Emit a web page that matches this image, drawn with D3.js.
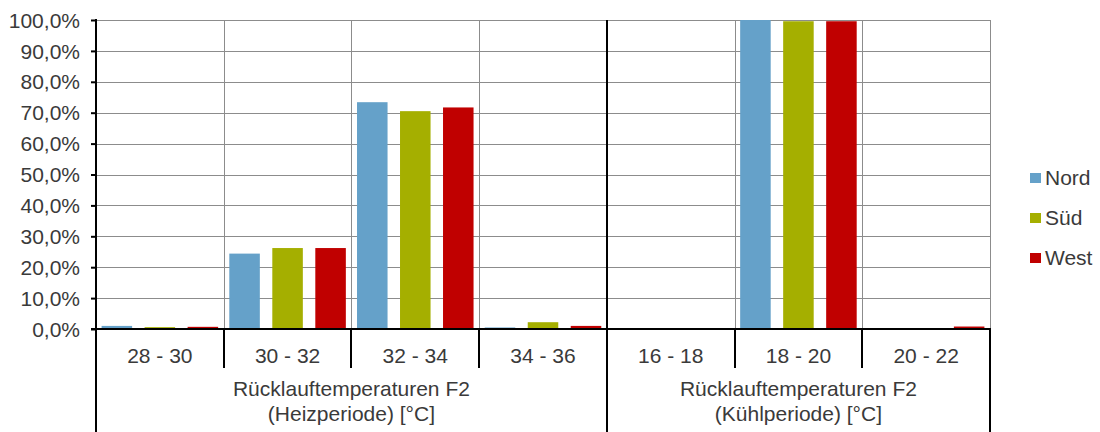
<!DOCTYPE html>
<html><head><meta charset="utf-8">
<script src="https://cdn.jsdelivr.net/npm/d3@7"></script>
<style>body{margin:0;background:#fff}svg{display:block;font-family:"Liberation Sans",Arial,sans-serif}</style>
</head><body><svg id="c" width="1100" height="432"></svg>
<script>
const categories = ["28 - 30","30 - 32","32 - 34","34 - 36","16 - 18","18 - 20","20 - 22"];
const groups = [
  {lines:["Rücklauftemperaturen F2","(Heizperiode) [°C]"], from:0, to:4},
  {lines:["Rücklauftemperaturen F2","(Kühlperiode) [°C]"], from:4, to:7}
];
const seriesNames = ["Nord","Süd","West"];
const nord = [1.0, 24.4, 73.4, 0.5, 0, 100.0, 0];
const sued = [0.6, 26.2, 70.5, 2.2, 0, 99.6, 0];
const west = [0.7, 26.2, 71.7, 1.0, 0, 99.6, 0.8];
const seriesValues = [nord, sued, west];
const colors = ["#65A1C9","#A5AF00","#C00000"];
const yTicks = [0,10,20,30,40,50,60,70,80,90,100];

const svg = d3.select("#c");
const FS = 21;
const L=96, R=990, T=20, B=329;
const x = d3.scaleBand().domain(categories).range([L,R]).padding(0);
const xi = d3.scaleBand().domain(seriesNames).range([0,x.bandwidth()]).paddingInner(0.29).paddingOuter(0.13);
const y = d3.scaleLinear().domain([0,100]).range([B,T]);
const fmt = v => d3.format(".1f")(v).replace(".",",")+"%";
const txt = "#3a3a3a";

// horizontal grid
svg.append("g").selectAll("line").data(yTicks.filter(d=>d>0)).join("line")
  .attr("x1",L).attr("x2",R).attr("y1",d=>Math.round(y(d))+0.5).attr("y2",d=>Math.round(y(d))+0.5)
  .attr("stroke","#8c8c8c").attr("stroke-width",1);
// vertical grid at category boundaries
const bounds = categories.map(c=>x(c)).concat([R]);
svg.append("g").selectAll("line").data(bounds.slice(1)).join("line")
  .attr("x1",d=>Math.round(d)+0.5).attr("x2",d=>Math.round(d)+0.5).attr("y1",T).attr("y2",B)
  .attr("stroke","#8c8c8c").attr("stroke-width",1);
// group separator (black) in plot
svg.append("line").attr("x1",Math.round(x(categories[4]))).attr("x2",Math.round(x(categories[4])))
  .attr("y1",T).attr("y2",B).attr("stroke","#000").attr("stroke-width",2);

// bars
const bars = [];
categories.forEach((c,i)=>seriesNames.forEach((s,j)=>bars.push({c,s,j,v:seriesValues[j][i]})));
svg.append("g").selectAll("rect").data(bars.filter(d=>d.v>0)).join("rect")
  .attr("x",d=>x(d.c)+xi(d.s)).attr("width",xi.bandwidth())
  .attr("y",d=>y(d.v)).attr("height",d=>B-y(d.v)).attr("fill",d=>colors[d.j]);

// y axis
const yAxis = d3.axisLeft(y).tickValues(yTicks).tickFormat(fmt).tickSize(5).tickPadding(11);
const ya = svg.append("g").attr("transform",`translate(${L},0)`).call(yAxis);
ya.select(".domain").remove();
ya.selectAll(".tick line").attr("stroke","#000").attr("stroke-width",2);
ya.selectAll("text").attr("font-size",FS).attr("fill",txt).attr("dy","0.34em").attr("font-family","Liberation Sans, Arial, sans-serif");
svg.append("line").attr("x1",L).attr("x2",L).attr("y1",T-1).attr("y2",432).attr("stroke","#000").attr("stroke-width",2);

// x axis baseline
svg.append("line").attr("x1",L-5).attr("x2",R+1).attr("y1",B).attr("y2",B).attr("stroke","#000").attr("stroke-width",2);
// category ticks down to label row
svg.append("g").selectAll("line").data(bounds.slice(1)).join("line")
  .attr("x1",d=>Math.round(d)).attr("x2",d=>Math.round(d)).attr("y1",B).attr("y2",368)
  .attr("stroke","#000").attr("stroke-width",2);
// group separators to bottom
groups.forEach(g=>{
  const xr = g.to<categories.length ? x(categories[g.to]) : R;
  svg.append("line").attr("x1",Math.round(xr)).attr("x2",Math.round(xr)).attr("y1",B).attr("y2",432)
    .attr("stroke","#000").attr("stroke-width",2);
});
// category labels
svg.append("g").selectAll("text").data(categories).join("text")
  .attr("x",d=>x(d)+x.bandwidth()/2).attr("y",363).attr("text-anchor","middle")
  .attr("font-size",FS).attr("fill",txt).text(d=>d);
// group labels
groups.forEach(g=>{
  const x0 = x(categories[g.from]);
  const x1 = g.to<categories.length ? x(categories[g.to]) : R;
  g.lines.forEach((l,k)=>{
    svg.append("text").attr("x",(x0+x1)/2).attr("y",396+k*25).attr("text-anchor","middle")
      .attr("font-size",FS).attr("fill",txt).text(l);
  });
});

// legend
seriesNames.forEach((s,j)=>{
  const ly = 178 + j*40;
  svg.append("rect").attr("x",1030).attr("y",ly-5).attr("width",11).attr("height",10).attr("fill",colors[j]);
  svg.append("text").attr("x",1045).attr("y",ly+7).attr("font-size",FS).attr("fill",txt).text(s);
});
</script></body></html>
